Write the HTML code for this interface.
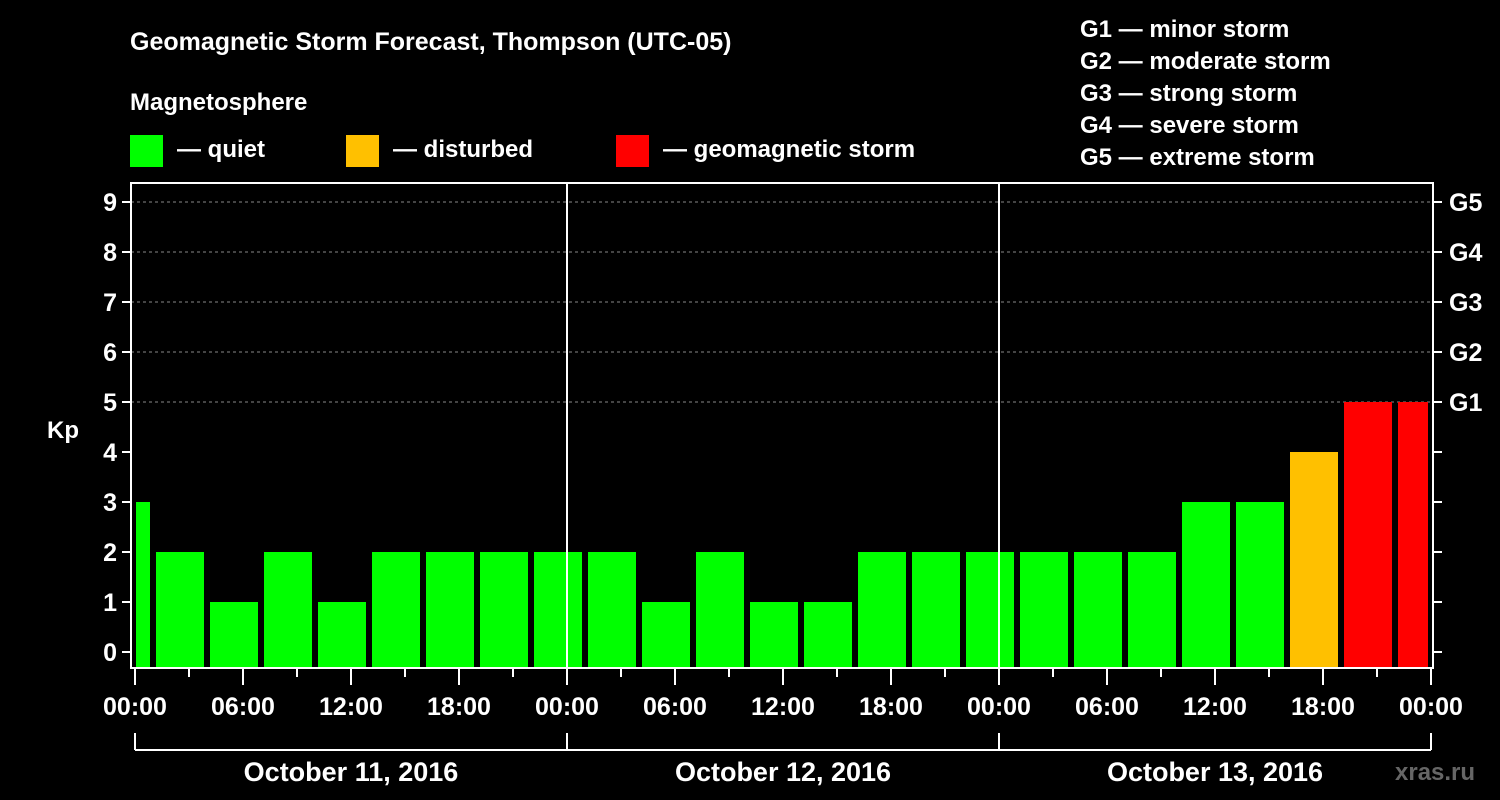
<!DOCTYPE html>
<html><head><meta charset="utf-8"><style>
html,body{margin:0;padding:0;background:#000;width:1500px;height:800px;overflow:hidden}
svg text{font-family:"Liberation Sans",Arial,sans-serif;font-weight:bold;fill:#fff}
</style></head><body>
<svg id="chart" width="1500" height="800" viewBox="0 0 1500 800" xmlns="http://www.w3.org/2000/svg">
<text x="130" y="50" font-size="25">Geomagnetic Storm Forecast, Thompson (UTC-05)</text>
<text x="130" y="110" font-size="24">Magnetosphere</text>
<g><rect x="130" y="135" width="33" height="32" fill="#00ff00"/><text x="177" y="157" font-size="24">— quiet</text></g>
<g><rect x="346" y="135" width="33" height="32" fill="#ffc000"/><text x="393" y="157" font-size="24">— disturbed</text></g>
<g><rect x="616" y="135" width="33" height="32" fill="#ff0000"/><text x="663" y="157" font-size="24">— geomagnetic storm</text></g>
<g font-size="24">
<text x="1080" y="37">G1 — minor storm</text>
<text x="1080" y="69">G2 — moderate storm</text>
<text x="1080" y="101">G3 — strong storm</text>
<text x="1080" y="133">G4 — severe storm</text>
<text x="1080" y="165">G5 — extreme storm</text>
</g>
<g id="grid"></g>
<g id="bars"></g>
<g id="axes"></g>
<text x="63" y="438" font-size="24" text-anchor="middle">Kp</text>
<text x="1395" y="780" font-size="24" fill="#666" style="fill:#666">xras.ru</text>
</svg>
<script>
const kpValues=[3,2,1,2,1,2,2,2,2,2,1,2,1,1,2,2,2,2,2,2,3,3,4,5,5];
const barStartHours=[-2,1,4,7,10,13,16,19,22,25,28,31,34,37,40,43,46,49,52,55,58,61,64,67,70];
const dayLabels=["October 11, 2016","October 12, 2016","October 13, 2016"];
const xTickLabels=["00:00","06:00","12:00","18:00"];
const yTicks=[0,1,2,3,4,5,6,7,8,9];
const gLabels=["G1","G2","G3","G4","G5"];
const NS="http://www.w3.org/2000/svg";
const X0=135,PXH=18,Y0=652,PXK=50,LEFT=131,RIGHT=1433,TOP=183,BOT=668;
const xs=h=>X0+h*PXH, ys=k=>Y0-k*PXK;
function el(p,t,a){const e=document.createElementNS(NS,t);for(const k in a)e.setAttribute(k,a[k]);p.appendChild(e);return e;}
const grid=document.getElementById('grid'),bars=document.getElementById('bars'),axes=document.getElementById('axes');
for(let k=5;k<=9;k++){const l=el(grid,'line',{x1:LEFT,x2:RIGHT,y1:ys(k),y2:ys(k),stroke:'#888','stroke-dasharray':'3,3','stroke-width':1});

}
function color(v){return v>=5?'#ff0000':v>=4?'#ffc000':'#00ff00';}
kpValues.forEach((v,i)=>{const h0=Math.max(barStartHours[i],0),h1=Math.min(barStartHours[i]+3,72);
const x1=xs(h0)+(barStartHours[i]<0?1:3),x2=xs(h1)-3;
const r=el(bars,'rect',{x:x1,y:ys(v),width:x2-x1,height:BOT-ys(v),fill:color(v)});

});
for(let d=1;d<3;d++){const l=el(axes,'line',{x1:xs(d*24),x2:xs(d*24),y1:TOP,y2:BOT,stroke:'#fff','stroke-width':2});

}
const frame=el(axes,'rect',{x:LEFT,y:TOP,width:RIGHT-LEFT,height:BOT-TOP,fill:'none',stroke:'#fff','stroke-width':2});


yTicks.forEach(k=>{el(axes,'line',{x1:LEFT-9,x2:LEFT,y1:ys(k),y2:ys(k),stroke:'#fff','stroke-width':2});
el(axes,'line',{x1:RIGHT,x2:RIGHT+9,y1:ys(k),y2:ys(k),stroke:'#fff','stroke-width':2});
const t=el(axes,'text',{x:117,y:ys(k)+9,'font-size':25,'text-anchor':'end'});t.textContent=k;

});
gLabels.forEach((g,i)=>{const t=el(axes,'text',{x:1449,y:ys(5+i)+9,'font-size':25});t.textContent=g;

});
for(let h=0;h<=72;h+=3){const major=h%6===0;el(axes,'line',{x1:xs(h),x2:xs(h),y1:BOT,y2:BOT+(major?17:9),stroke:'#fff','stroke-width':2});
if(major){const t=el(axes,'text',{x:xs(h),y:715,'font-size':25,'text-anchor':'middle'});t.textContent=xTickLabels[(h/6)%4];

}}
el(axes,'line',{x1:xs(0),x2:xs(72),y1:750,y2:750,stroke:'#fff','stroke-width':2});
for(let d=0;d<=3;d++)el(axes,'line',{x1:xs(d*24),x2:xs(d*24),y1:733,y2:750,stroke:'#fff','stroke-width':2});
dayLabels.forEach((s,d)=>{const t=el(axes,'text',{x:xs(d*24+12),y:781,'font-size':27,'text-anchor':'middle'});t.textContent=s;

});
</script>
</body></html>
